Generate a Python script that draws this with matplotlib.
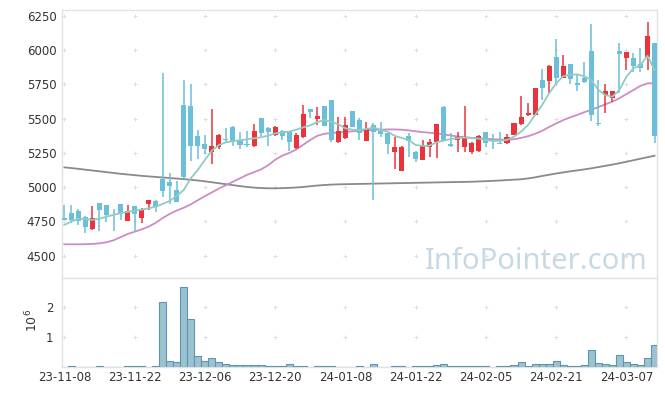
import matplotlib

matplotlib.use("Agg")
import matplotlib.pyplot as plt
import numpy as np

# trading-day index 0..84, labels every 10 sessions
tick_idx = [0, 10, 20, 30, 40, 50, 60, 70, 80]
tick_labels = ["23-11-08", "23-11-22", "23-12-06", "23-12-20", "24-01-08",
               "24-01-22", "24-02-05", "24-02-21", "24-03-07"]

opens = [4778, 4814, 4827, 4785, 4693, 4883, 4868, 4836, 4878, 4753,
         4863, 4776, 4878, 4900, 5062, 5038, 4980, 5600, 5593, 5374,
         5315, 5260, 5296, 5352, 5442, 5345, 5313, 5300, 5506, 5434,
         5378, 5410, 5401, 5284, 5364, 5571, 5498, 5593, 5637, 5330,
         5362, 5556, 5491, 5337, 5454, 5412, 5395, 5260, 5121, 5374,
         5257, 5199, 5294, 5328, 5588, 5316, 5345, 5296, 5259, 5262,
         5401, 5325, 5323, 5321, 5381, 5459, 5525, 5530, 5783, 5778,
         5951, 5800, 5900, 5763, 5800, 5997, 5470, 5673, 5649, 5997,
         5941, 5941, 5900, 5953, 6051]
highs = [4868, 4868, 4840, 4790, 4862, 4886, 4870, 4838, 4880, 4867,
         4865, 4850, 4907, 4910, 5834, 5101, 5047, 5783, 5751, 5418,
         5378, 5568, 5385, 5430, 5447, 5400, 5413, 5462, 5508, 5436,
         5444, 5418, 5404, 5394, 5597, 5573, 5583, 5595, 5639, 5515,
         5510, 5558, 5505, 5474, 5466, 5474, 5397, 5369, 5300, 5394,
         5267, 5345, 5352, 5462, 5590, 5394, 5406, 5595, 5330, 5380,
         5403, 5386, 5401, 5390, 5470, 5668, 5612, 5727, 5861, 5890,
         6080, 5966, 5902, 5819, 5911, 6190, 5785, 5751, 5702, 6051,
         5990, 5982, 6014, 6204, 6051]
lows = [4758, 4737, 4722, 4664, 4690, 4681, 4745, 4683, 4761, 4750,
        4672, 4742, 4834, 4822, 4928, 4880, 4895, 5060, 5190, 5205,
        5244, 5169, 5280, 5333, 5300, 5278, 5296, 5296, 5375, 5302,
        5376, 5342, 5268, 5282, 5360, 5506, 5454, 5449, 5328, 5325,
        5355, 5440, 5345, 5335, 4907, 5364, 5240, 5133, 5118, 5223,
        5182, 5199, 5218, 5211, 5337, 5296, 5259, 5259, 5243, 5260,
        5292, 5277, 5316, 5318, 5378, 5455, 5520, 5528, 5637, 5686,
        5745, 5795, 5754, 5702, 5759, 5480, 5445, 5540, 5620, 5686,
        5856, 5844, 5844, 5856, 5321]
closes = [4761, 4761, 4756, 4712, 4776, 4834, 4798, 4830, 4810, 4826,
          4807, 4839, 4907, 4853, 4974, 5012, 4895, 5075, 5304, 5304,
          5280, 5301, 5381, 5345, 5338, 5310, 5306, 5410, 5398, 5405,
          5442, 5373, 5333, 5381, 5535, 5552, 5520, 5449, 5342, 5414,
          5454, 5442, 5394, 5428, 5406, 5390, 5315, 5294, 5290, 5340,
          5206, 5301, 5330, 5462, 5337, 5300, 5369, 5369, 5320, 5375,
          5321, 5320, 5318, 5364, 5466, 5513, 5544, 5725, 5727, 5886,
          5800, 5886, 5788, 5749, 5771, 5530, 5465, 5702, 5702, 5973,
          5990, 5888, 5869, 6104, 5376]

ma5 = [4725, 4748, 4770, 4768, 4761, 4770, 4785, 4798, 4810, 4820,
       4829, 4836, 4846, 4858, 4878, 4900, 4936, 4980, 5065, 5126,
       5199, 5267, 5308, 5328, 5336, 5343, 5350, 5357, 5365, 5376,
       5393, 5400, 5406, 5420, 5437, 5452, 5475, 5491, 5478, 5459,
       5430, 5420, 5418, 5425, 5435, 5420, 5406, 5375, 5360, 5345,
       5308, 5302, 5304, 5328, 5340, 5352, 5358, 5362, 5358, 5355,
       5345, 5337, 5340, 5345, 5369, 5406, 5454, 5527, 5600, 5686,
       5759, 5810, 5822, 5824, 5810, 5783, 5710, 5673, 5661, 5710,
       5807, 5868, 5892, 5960, 5855]
ma20 = [4583, 4583, 4583, 4584, 4586, 4590, 4598, 4612, 4635, 4658,
        4675, 4692, 4712, 4740, 4775, 4805, 4830, 4850, 4875, 4905,
        4935, 4962, 4990, 5015, 5040, 5065, 5090, 5110, 5130, 5160,
        5200, 5230, 5250, 5275, 5310, 5345, 5375, 5390, 5395, 5400,
        5405, 5408, 5412, 5415, 5418, 5420, 5422, 5422, 5420, 5415,
        5408, 5402, 5398, 5393, 5385, 5378, 5370, 5365, 5360, 5357,
        5354, 5350, 5348, 5347, 5350, 5360, 5372, 5390, 5412, 5440,
        5465, 5490, 5510, 5528, 5548, 5565, 5585, 5605, 5625, 5650,
        5680, 5710, 5740, 5758, 5760]
ma120 = [5145, 5140, 5134, 5128, 5122, 5116, 5110, 5104, 5098, 5093,
         5088, 5083, 5079, 5075, 5071, 5067, 5063, 5059, 5054, 5049,
         5043, 5036, 5029, 5022, 5015, 5008, 5002, 4997, 4994, 4992,
         4992, 4993, 4995, 4998, 5002, 5007, 5012, 5016, 5019, 5021,
         5022, 5023, 5024, 5025, 5026, 5027, 5028, 5029, 5030, 5031,
         5032, 5033, 5034, 5035, 5036, 5037, 5038, 5039, 5040, 5042,
         5044, 5046, 5049, 5052, 5055, 5058, 5064, 5072, 5082, 5091,
         5100, 5108, 5116, 5123, 5130, 5138, 5147, 5156, 5165, 5175,
         5186, 5197, 5208, 5219, 5230]

volume_m = [0.005, 0.03, 0.005, 0.005, 0.005, 0.03, 0.005, 0.005, 0.005, 0.03,
            0.03, 0.03, 0.005, 0.03, 2.18, 0.2, 0.18, 2.68, 1.6, 0.36,
            0.2, 0.3, 0.17, 0.09, 0.07, 0.07, 0.07, 0.07, 0.07, 0.03,
            0.03, 0.03, 0.1, 0.03, 0.03, 0.005, 0.03, 0.03, 0.03, 0.005,
            0.005, 0.005, 0.03, 0.005, 0.1, 0.005, 0.005, 0.03, 0.03, 0.005,
            0.03, 0.03, 0.03, 0.07, 0.1, 0.03, 0.03, 0.03, 0.03, 0.03,
            0.03, 0.005, 0.03, 0.03, 0.07, 0.18, 0.03, 0.1, 0.1, 0.1,
            0.21, 0.07, 0.03, 0.03, 0.07, 0.57, 0.13, 0.1, 0.07, 0.4,
            0.17, 0.1, 0.07, 0.3, 0.73]

UP, DOWN = "#ea333b", "#6bbfd8"
TXT = "#333333"
GRID = "#dedede"
SPINE = "#e2e2e2"

o, h, l, c = (np.array(a, dtype=float) for a in (opens, highs, lows, closes))
x = np.arange(len(o))
vol = np.array(volume_m) * 1e6

fig = plt.figure(figsize=(6.65, 3.96), dpi=100)
ax = fig.add_axes([62 / 665, 1 - 278 / 396, 595 / 665, 268 / 396])
axv = fig.add_axes([62 / 665, 1 - 367 / 396, 595 / 665, 89 / 396], sharex=ax)

# candles
col = np.where(c >= o, UP, DOWN)
ax.vlines(x, l, h, colors=col, linewidth=1.1, zorder=3)
body = np.maximum(np.abs(c - o), 6)
ax.bar(x, body, bottom=np.minimum(o, c), width=0.72, color=col, linewidth=0, zorder=4)

ax.plot(x, ma120, color="#8a8a8a", linewidth=1.3, zorder=2)
ax.plot(x, ma20, color="#cc8cc6", linewidth=1.3, zorder=2)
ax.plot(x, ma5, color="#8fcdc0", linewidth=1.3, zorder=5)

yt = np.arange(4500, 6251, 250)
ax.set_ylim(4337, 6294)
ax.set_xlim(-0.33, 84.35)
ax.set_yticks(yt)
ax.set_yticklabels([str(v) for v in yt])
gx, gy = np.meshgrid(tick_idx, yt)
ax.scatter(gx.ravel(), gy.ravel(), marker="+", s=12, color=GRID, linewidths=0.7, zorder=1)
ax.tick_params(axis="y", length=0, pad=4, labelsize=8.5, labelcolor=TXT)
ax.tick_params(axis="x", length=0, labelbottom=False)

ax.text(0.985, 0.035, "InfoPointer.com", transform=ax.transAxes, ha="right",
        va="baseline", fontsize=21, color="#c6d9e4", family="Noto Sans", zorder=0)

# volume
axv.bar(x, vol, width=1.0, color="#9cc2d2", edgecolor="#5f96ad", linewidth=0.8, zorder=3)
axv.set_ylim(0, 2.97e6)
axv.set_yticks([1e6, 2e6])
axv.set_yticklabels(["1", "2"])
axv.set_xticks(tick_idx)
axv.set_xticklabels(tick_labels)
vx, vy = np.meshgrid(tick_idx, [1e6, 2e6])
axv.scatter(vx.ravel(), vy.ravel(), marker="+", s=12, color=GRID, linewidths=0.7, zorder=1)
axv.tick_params(axis="both", length=0, labelsize=8.5, labelcolor=TXT)
axv.tick_params(axis="y", pad=6)
axv.tick_params(axis="x", pad=3)
fig.text(32 / 665, 1 - 320 / 396, r"$10^6$", rotation=90, ha="center", va="center",
         fontsize=9, color=TXT)

for a in (ax, axv):
    for s in a.spines.values():
        s.set_color(SPINE)
        s.set_linewidth(1.0)

fig.savefig("out.png", dpi=100)
